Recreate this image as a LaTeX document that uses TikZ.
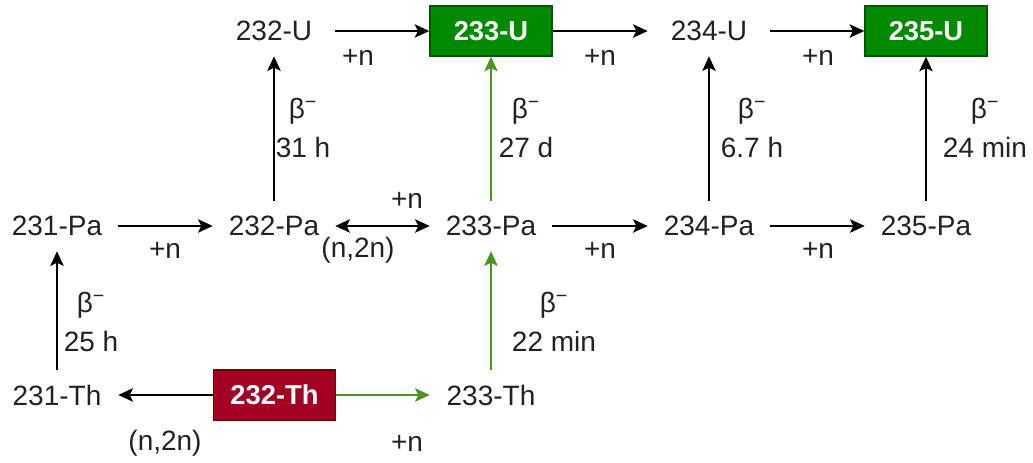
\documentclass[tikz,border=0pt]{standalone}
\usepackage{fontspec}
\setmainfont{Liberation Sans}
\usetikzlibrary{arrows.meta}
\definecolor{txt}{HTML}{222222}
\definecolor{gfill}{HTML}{008A00}
\definecolor{gline}{HTML}{005700}
\definecolor{rfill}{HTML}{A20025}
\definecolor{rline}{HTML}{6F0000}
\definecolor{garrow}{HTML}{4A9420}
\newcommand{\bminus}{β\textsuperscript{\char"2212}}
\tikzset{
  iso/.style={minimum width=122*0.75pt, minimum height=50*0.75pt, inner sep=0pt,
    font=\fontsize{21}{25}\selectfont, text=txt},
  greenbox/.style={iso, draw=gline, fill=gfill, line width=1pt, text=white,
    font=\fontsize{20.5}{24}\selectfont\bfseries},
  redbox/.style={iso, draw=rline, fill=rfill, line width=1pt, text=white,
    font=\fontsize{20.5}{24}\selectfont\bfseries},
  lbl/.style={font=\fontsize{21}{25}\selectfont, text=txt, inner sep=0pt, align=center},
  tip/.style={},
  conn/.style={line width=1.7pt, draw=black, -{Stealth[length=11pt,width=10pt,inset=2.5pt]}},
  gconn/.style={line width=1.7pt, draw=garrow, -{Stealth[length=11pt,width=10pt,inset=2.5pt]}},
  dconn/.style={line width=1.7pt, draw=black, {Stealth[length=11pt,width=10pt,inset=2.5pt]}-{Stealth[length=11pt,width=10pt,inset=2.5pt]}},
}
\begin{document}
\begin{tikzpicture}[x=0.75pt,y=-0.75pt]
\useasboundingbox (0,0) rectangle (1033,463);
% nodes
\node[iso] (U232) at (274,31) {232-U};
\node[greenbox] (U233) at (491,31) {233-U};
\node[iso] (U234) at (709,31) {234-U};
\node[greenbox] (U235) at (926,31) {235-U};
\node[iso] (Pa231) at (57,226) {231-Pa};
\node[iso] (Pa232) at (274,226) {232-Pa};
\node[iso] (Pa233) at (491,226) {233-Pa};
\node[iso] (Pa234) at (709,226) {234-Pa};
\node[iso] (Pa235) at (926,226) {235-Pa};
\node[iso] (Th231) at (57,395) {231-Th};
\node[redbox] (Th232) at (274.5,395) {232-Th};
\node[iso] (Th233) at (491,395) {233-Th};
% horizontal connectors
\draw[conn] (U232) -- (U233);
\draw[conn] (U233) -- (U234);
\draw[conn] (U234) -- (U235);
\draw[conn] (Pa231) -- (Pa232);
\draw[dconn] (Pa232) -- (Pa233);
\draw[conn] (Pa233) -- (Pa234);
\draw[conn] (Pa234) -- (Pa235);
\draw[conn] (Th232) -- (Th231);
\draw[gconn] (Th232) -- (Th233);
% vertical connectors
\draw[conn] (Pa232) -- (U232);
\draw[gconn] (Pa233) -- (U233);
\draw[conn] (Pa234) -- (U234);
\draw[conn] (Pa235) -- (U235);
\draw[conn] (Th231) -- (Pa231);
\draw[gconn] (Th233) -- (Pa233);
% labels
\node[lbl] (l1) at (358,57) {+n};
\node[lbl] (l2) at (600,57) {+n};
\node[lbl] (l3) at (818,57) {+n};
\node[lbl] (l4) at (165,250) {+n};
\node[lbl] (l5) at (407,200) {+n};
\node[lbl] (l6) at (358,250) {(n,2n)};
\node[lbl] (l7) at (600,250) {+n};
\node[lbl] (l8) at (818,250) {+n};
\node[lbl] (l9) at (165,443) {(n,2n)};
\node[lbl] (l10) at (407,443) {+n};
\node[lbl] (d1) at (303,128) {\bminus\\[4pt]31 h};
\node[lbl] (d2) at (526,128) {\bminus\\[4pt]27 d};
\node[lbl] (d3) at (752,128) {\bminus\\[4pt]6.7 h};
\node[lbl] (d4) at (985,128) {\bminus\\[4pt]24 min};
\node[lbl] (d5) at (91,322) {\bminus\\[4pt]25 h};
\node[lbl] (d6) at (554,322) {\bminus\\[4pt]22 min};
\end{tikzpicture}
\end{document}
